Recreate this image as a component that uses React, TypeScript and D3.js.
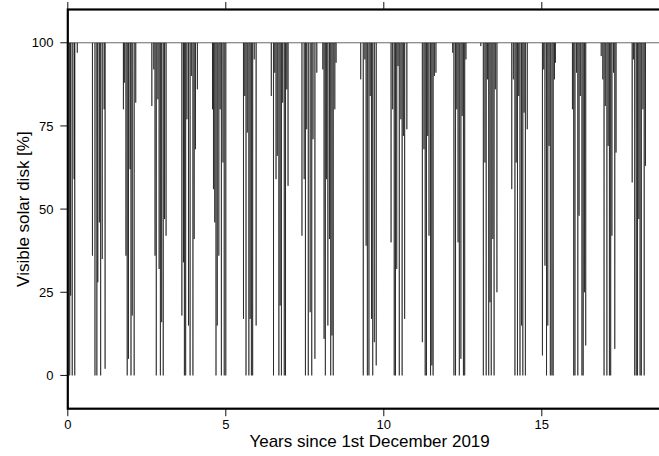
import * as d3 from 'd3'

// visible share of the solar disk during each eclipse: [years since 1 Dec 2019, minimum %]
const eclipses: [number, number][] = [
  // season 1
  [0.06, 0], [0.09, 24], [0.14, 0], [0.2, 59], [0.22, 0], [0.3, 97],
  // season 2
  [0.78, 36], [0.86, 0], [0.92, 0], [0.95, 28], [1.0, 46], [1.04, 0], [1.09, 35], [1.15, 80], [1.18, 2],
  // season 3
  [1.76, 80], [1.79, 88], [1.84, 36], [1.88, 0], [1.92, 5], [1.97, 62], [2.0, 0], [2.04, 18], [2.1, 0], [2.15, 82],
  // season 4
  [2.66, 81], [2.72, 92], [2.76, 36], [2.8, 0], [2.85, 83], [2.89, 32], [2.93, 0], [2.97, 16], [3.02, 0], [3.06, 47], [3.11, 42],
  // season 5
  [3.61, 18], [3.66, 34], [3.69, 0], [3.73, 0], [3.77, 77], [3.82, 15], [3.87, 0], [3.91, 90], [3.96, 0], [4.0, 41], [4.04, 68], [4.1, 86],
  // season 6
  [4.58, 80], [4.61, 56], [4.65, 46], [4.69, 0], [4.73, 15], [4.78, 36], [4.82, 80], [4.86, 0], [4.91, 64], [4.95, 0], [5.0, 0],
  // season 7
  [5.56, 17], [5.6, 84], [5.64, 0], [5.68, 73], [5.73, 0], [5.77, 17], [5.81, 0], [5.85, 0], [5.9, 95], [5.96, 15],
  // season 8
  [6.44, 84], [6.51, 0], [6.55, 91], [6.59, 59], [6.63, 66], [6.68, 0], [6.72, 21], [6.76, 0], [6.8, 82], [6.85, 0], [6.89, 0], [6.93, 86], [6.97, 57],
  // season 9
  [7.41, 42], [7.48, 59], [7.52, 0], [7.56, 74], [7.61, 0], [7.67, 19], [7.72, 0], [7.76, 71], [7.82, 5], [7.88, 91],
  // season 10
  [8.07, 92], [8.11, 11], [8.15, 0], [8.19, 59], [8.23, 15], [8.28, 41], [8.32, 0], [8.36, 12], [8.4, 0], [8.45, 80], [8.49, 94],
  // season 11
  [9.27, 89], [9.35, 0], [9.4, 95], [9.44, 39], [9.48, 0], [9.53, 0], [9.57, 84], [9.61, 17], [9.65, 0], [9.7, 10], [9.76, 3],
  // season 12
  [10.23, 40], [10.28, 80], [10.33, 0], [10.37, 0], [10.41, 32], [10.45, 93], [10.49, 0], [10.54, 77], [10.58, 0], [10.62, 72], [10.66, 17], [10.73, 74],
  // season 13
  [11.22, 10], [11.27, 68], [11.31, 0], [11.35, 0], [11.39, 72], [11.43, 42], [11.48, 0], [11.52, 3], [11.56, 0], [11.6, 90], [11.65, 91],
  // season 14
  [12.18, 97], [12.22, 0], [12.27, 0], [12.31, 80], [12.35, 40], [12.39, 0], [12.44, 5], [12.48, 78], [12.52, 0], [12.56, 0], [12.6, 95],
  // season 15
  [13.07, 99], [13.15, 0], [13.2, 64], [13.24, 0], [13.28, 89], [13.32, 0], [13.36, 22], [13.4, 0], [13.45, 41], [13.49, 0], [13.53, 86], [13.58, 25],
  // season 16
  [14.05, 56], [14.1, 89], [14.15, 0], [14.19, 64], [14.23, 0], [14.27, 84], [14.31, 0], [14.36, 15], [14.4, 0], [14.44, 79], [14.48, 0], [14.54, 74],
  // season 17
  [15.02, 6], [15.06, 92], [15.1, 33], [15.15, 0], [15.19, 15], [15.23, 69], [15.27, 0], [15.32, 0], [15.36, 0], [15.4, 89], [15.43, 94],
  // season 18
  [15.97, 80], [16.01, 0], [16.05, 0], [16.1, 91], [16.14, 0], [16.18, 48], [16.22, 84], [16.27, 0], [16.31, 0], [16.35, 25], [16.39, 9],
  // season 19
  [16.88, 96], [16.93, 89], [16.97, 0], [17.01, 81], [17.06, 0], [17.1, 69], [17.14, 0], [17.18, 0], [17.22, 42], [17.27, 91], [17.31, 8], [17.35, 67],
  // season 20
  [17.86, 58], [17.9, 95], [17.94, 0], [17.99, 0], [18.03, 0], [18.07, 47], [18.11, 0], [18.15, 0], [18.2, 80], [18.24, 0], [18.28, 63],
]

const seriesSpan: [number, number] = [0, 19.1]
const fullDisk = 100
const yTicks = [0, 25, 50, 75, 100]
const xTicks = [0, 5, 10, 15]

const W = 659
const H = 456
const FONT = '"Liberation Sans", Arial, Helvetica, sans-serif'

export default function App() {
  const left = 67.8
  const top = 9.5
  const bottom = 408.7
  const pxPerYear = 31.6
  const right = left + (seriesSpan[1] - seriesSpan[0]) * pxPerYear

  const x = d3.scaleLinear().domain(seriesSpan).range([left, right])
  const y = d3.scaleLinear().domain([-10, 110]).range([bottom, top])

  // each eclipse is a quick drop from the full disk and back
  const pts: [number, number][] = [[seriesSpan[0], fullDisk]]
  for (const [t, m] of eclipses) {
    pts.push([t - 0.002, fullDisk], [t, m], [t + 0.002, fullDisk])
  }
  pts.push([seriesSpan[1], fullDisk])

  const line = d3.line<[number, number]>()
    .x((d) => x(d[0]))
    .y((d) => y(d[1]))

  return (
    <div style={{ position: 'fixed', left: 0, top: 0, width: W, height: H, background: '#fff' }}>
      <svg width={W} height={H} style={{ display: 'block' }} fontFamily={FONT}>
        <defs>
          <clipPath id="plot">
            <rect x={left} y={top} width={right - left} height={bottom - top} />
          </clipPath>
        </defs>

        <path d={line(pts) ?? ''} fill="none" stroke="#000" strokeWidth={0.6} clipPath="url(#plot)" />

        {/* y ticks */}
        {yTicks.map((v) => (
          <g key={`y${v}`}>
            <line x1={left - 7.5} x2={left} y1={y(v)} y2={y(v)} stroke="#111" strokeWidth={1} />
            <text x={53.5} y={y(v)} dy="0.36em" textAnchor="end" fontSize={13} fill="#000">{v}</text>
          </g>
        ))}

        {/* x ticks, bottom and top */}
        {xTicks.map((v) => (
          <g key={`x${v}`}>
            <line x1={x(v)} x2={x(v)} y1={bottom} y2={bottom + 7.5} stroke="#111" strokeWidth={1} />
            <line x1={x(v)} x2={x(v)} y1={top - 7.5} y2={top} stroke="#111" strokeWidth={1} />
            <text x={x(v)} y={428.5} textAnchor="middle" fontSize={13} fill="#000">{v}</text>
          </g>
        ))}

        {/* frame */}
        <rect x={left} y={top} width={right - left} height={bottom - top} fill="none" stroke="#000" strokeWidth={2.2} />

        <text x={(left + right) / 2} y={447} textAnchor="middle" fontSize={17} fill="#000">
          Years since 1st December 2019
        </text>
        <text transform={`translate(29,${(top + bottom) / 2}) rotate(-90)`} textAnchor="middle" fontSize={17} fill="#000">
          Visible solar disk [%]
        </text>
      </svg>
    </div>
  )
}
